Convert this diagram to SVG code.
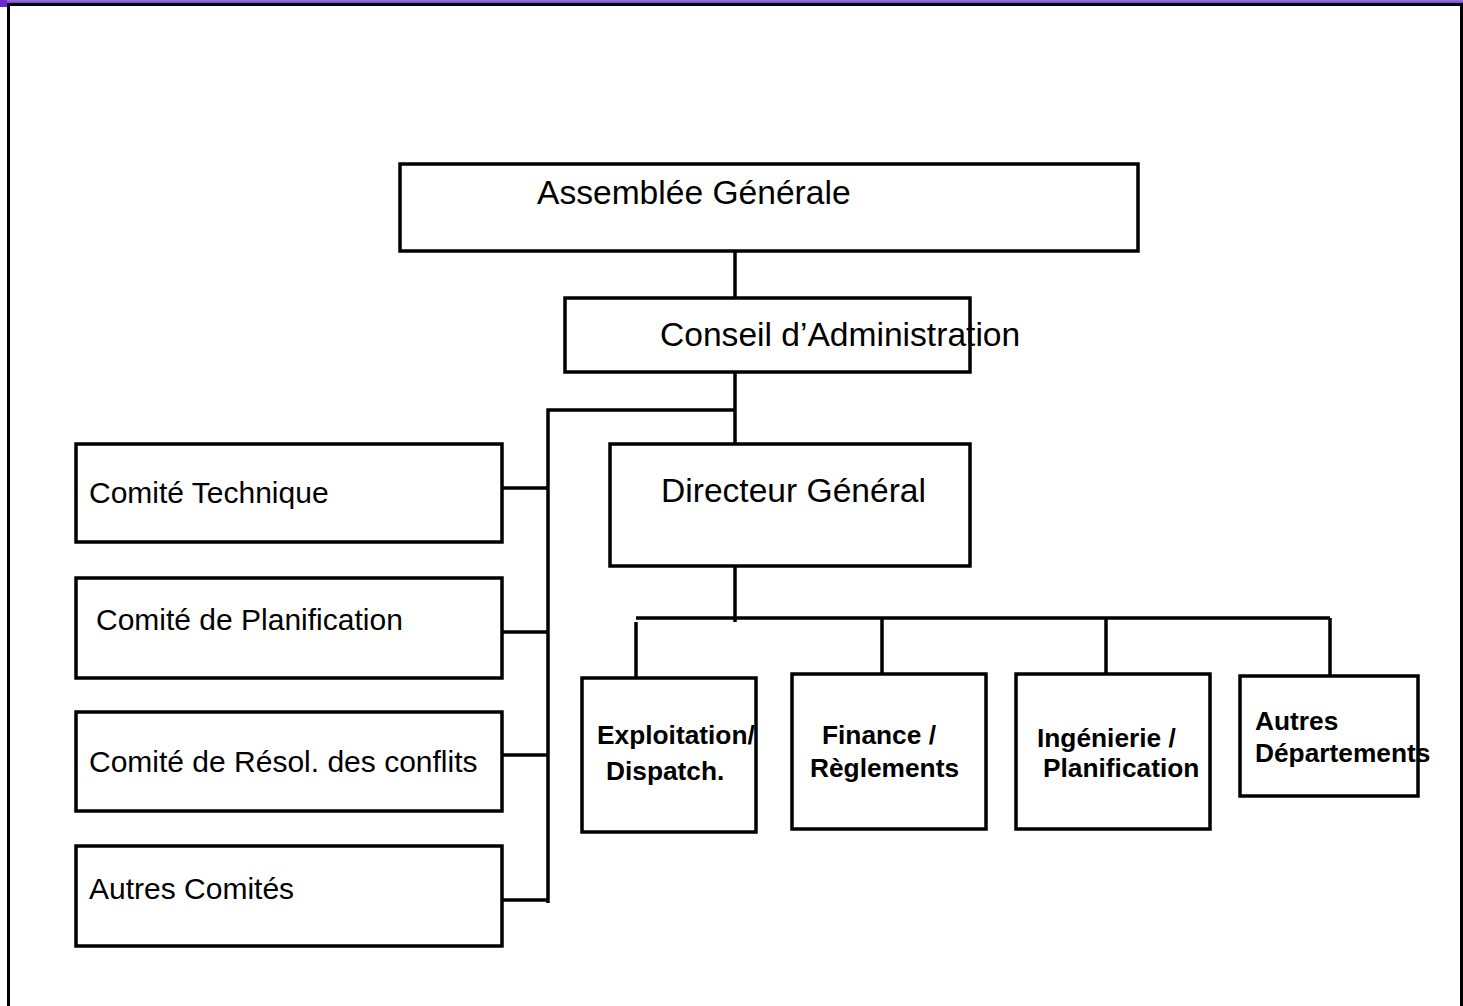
<svg xmlns="http://www.w3.org/2000/svg" width="1463" height="1006" viewBox="0 0 1463 1006">
<defs>
<linearGradient id="bar" x1="0" y1="0" x2="0" y2="1">
<stop offset="0" stop-color="#9a78dc"/>
<stop offset="1" stop-color="#7446cc"/>
</linearGradient>
<style>
.box{fill:#fff;stroke:#000;stroke-width:3.5}
.ln{stroke:#000;stroke-width:3.5;fill:none}
.big{font-family:"Liberation Sans",Arial,sans-serif;font-size:33.6px;fill:#000}
.mid{font-family:"Liberation Sans",Arial,sans-serif;font-size:30px;fill:#000}
.b{font-family:"Liberation Sans",Arial,sans-serif;font-size:26.3px;font-weight:bold;fill:#000}
</style>
</defs>
<rect width="1463" height="1006" fill="#fff"/>
<g id="frame">
<rect x="0" y="0" width="1463" height="3" fill="url(#bar)"/>
<rect x="0" y="0" width="7" height="7" fill="#6a2ad0"/>
<rect x="7" y="3" width="1456" height="3" fill="#000"/>
<rect x="7" y="3" width="3" height="1003" fill="#000"/>
<rect x="1460" y="3" width="3" height="1003" fill="#000"/>
</g>
<g id="connectors">
<line class="ln" x1="735" y1="251" x2="735" y2="298"/>
<line class="ln" x1="735" y1="372" x2="735" y2="444"/>
<polyline class="ln" points="735,410 548,410 548,903"/>
<line class="ln" x1="502" y1="488" x2="548" y2="488"/>
<line class="ln" x1="502" y1="632" x2="548" y2="632"/>
<line class="ln" x1="502" y1="755" x2="548" y2="755"/>
<line class="ln" x1="502" y1="900" x2="548" y2="900"/>
<line class="ln" x1="735" y1="566" x2="735" y2="622"/>
<line class="ln" x1="636" y1="618" x2="1330" y2="618"/>
<line class="ln" x1="636" y1="622" x2="636" y2="678"/>
<line class="ln" x1="882" y1="618" x2="882" y2="674"/>
<line class="ln" x1="1106" y1="618" x2="1106" y2="674"/>
<line class="ln" x1="1330" y1="618" x2="1330" y2="676"/>
</g>
<g id="assemblee">
<rect class="box" x="400" y="164" width="738" height="87"/>
<text class="big" x="537" y="204">Assemblée Générale</text>
</g>
<g id="conseil">
<rect class="box" x="565" y="298" width="405" height="74"/>
<text class="big" x="660" y="346">Conseil d’Administration</text>
</g>
<g id="directeur">
<rect class="box" x="610" y="444" width="360" height="122"/>
<text class="big" x="661" y="502">Directeur Général</text>
</g>
<g id="comite-technique">
<rect class="box" x="76" y="444" width="426" height="98"/>
<text class="mid" x="89" y="503">Comité Technique</text>
</g>
<g id="comite-planification">
<rect class="box" x="76" y="578" width="426" height="100"/>
<text class="mid" x="96" y="630">Comité de Planification</text>
</g>
<g id="comite-resol">
<rect class="box" x="76" y="712" width="426" height="99"/>
<text class="mid" x="89" y="772">Comité de Résol. des conflits</text>
</g>
<g id="autres-comites">
<rect class="box" x="76" y="846" width="426" height="100"/>
<text class="mid" x="89" y="899">Autres Comités</text>
</g>
<g id="exploitation">
<rect class="box" x="582" y="678" width="174" height="154"/>
<text class="b" x="597" y="744">Exploitation/</text>
<text class="b" x="606" y="780">Dispatch.</text>
</g>
<g id="finance">
<rect class="box" x="792" y="674" width="194" height="155"/>
<text class="b" x="822" y="744">Finance /</text>
<text class="b" x="810" y="777">Règlements</text>
</g>
<g id="ingenierie">
<rect class="box" x="1016" y="674" width="194" height="155"/>
<text class="b" x="1037" y="747">Ingénierie /</text>
<text class="b" x="1043" y="777">Planification</text>
</g>
<g id="autres-departements">
<rect class="box" x="1240" y="676" width="178" height="120"/>
<text class="b" x="1255" y="730">Autres</text>
<text class="b" x="1255" y="762">Départements</text>
</g>
</svg>
